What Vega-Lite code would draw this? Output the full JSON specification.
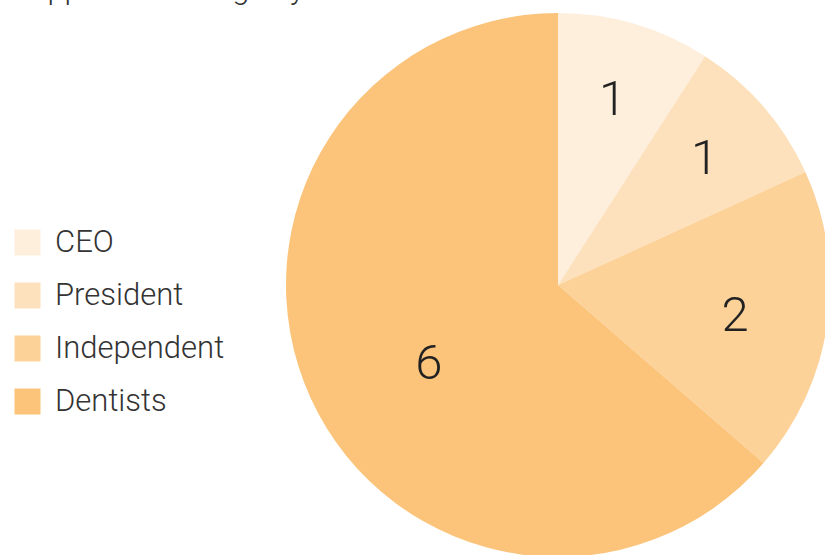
{
  "$schema": "https://vega.github.io/schema/vega-lite/v6.json",
  "width": 534,
  "height": 540,
  "autosize": {"type": "none"},
  "padding": {"left": 291, "top": 15, "right": 0, "bottom": 0},
  "background": "white",
  "title": {
    "text": "Supplement usage by",
    "anchor": "start",
    "orient": "top",
    "frame": "group",
    "font": "Roboto",
    "fontWeight": 300,
    "fontSize": 31,
    "color": "#333333",
    "baseline": "alphabetic",
    "offset": 0,
    "dy": 17,
    "dx": -279
  },
  "config": {"view": {"stroke": null}},
  "data": {
    "values": [
      {"role": "CEO", "value": 1, "label": "1"},
      {"role": "President", "value": 1, "label": "1"},
      {"role": "Independent", "value": 2, "label": "2"},
      {"role": "Dentists", "value": 7, "label": "6"}
    ]
  },
  "encoding": {
    "theta": {"field": "value", "type": "quantitative", "stack": true},
    "order": {"field": "value", "type": "quantitative", "sort": "ascending"},
    "color": {
      "field": "role",
      "type": "nominal",
      "sort": ["CEO", "President", "Independent", "Dentists"],
      "scale": {
        "domain": ["CEO", "President", "Independent", "Dentists"],
        "range": ["#FEEFDD", "#FDE1BC", "#FCD299", "#FBC47A"]
      },
      "legend": {
        "title": null,
        "orient": "none",
        "legendX": -279,
        "legendY": 212,
        "padding": 0,
        "symbolType": "square",
        "symbolSize": 676,
        "symbolStrokeWidth": 0,
        "symbolOpacity": 1,
        "labelFont": "Roboto",
        "labelFontWeight": 300,
        "labelFontSize": 31,
        "labelColor": "#333333",
        "labelOffset": 12,
        "rowPadding": 21,
        "labelLimit": 300
      }
    }
  },
  "layer": [
    {"mark": {"type": "arc", "outerRadius": 272, "stroke": null}},
    {
      "mark": {
        "type": "text",
        "radius": {"expr": "datum.label == '6' ? 153 : datum.label == '2' ? 180 : 194"},
        "dx": {"expr": "datum.label == '6' ? 10 : datum.label == '2' ? -1 : 0"},
        "dy": {"expr": "datum.label == '6' ? 15 : datum.label == '2' ? 5 : 1"},
        "font": "Roboto",
        "fontWeight": 300,
        "fontSize": 49,
        "fill": "#222222",
        "baseline": "middle",
        "align": "center"
      },
      "encoding": {
        "text": {"field": "label", "type": "nominal"},
        "color": {"value": "#222222"}
      }
    }
  ]
}
